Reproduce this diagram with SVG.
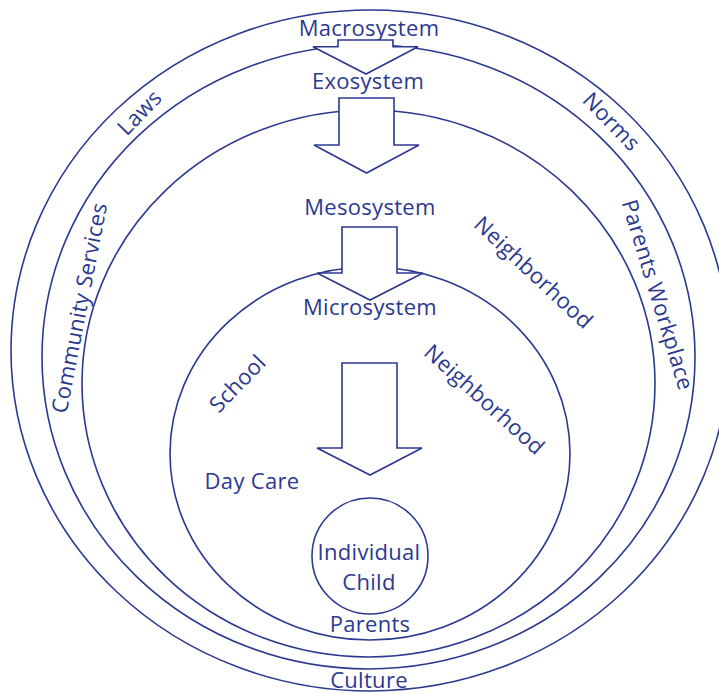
<svg xmlns="http://www.w3.org/2000/svg" width="719" height="694" viewBox="0 0 719 694">
<style>
.ring{fill:none;stroke:#2b3990;stroke-width:1.6}
.arrow{fill:#ffffff;stroke:#2b3990;stroke-width:1.6;stroke-linejoin:miter}
.lbl{font-family:"Open Sans","Noto Sans",sans-serif;font-size:22px;fill:#2b3990;text-anchor:middle;letter-spacing:0.3px}
</style>
<rect width="719" height="694" fill="#ffffff"/>
<g id="macrosystem">
<ellipse class="ring" cx="370" cy="350.5" rx="359" ry="340.5"/>
<text class="lbl" x="369" y="36">Macrosystem</text>
<text class="lbl" x="369" y="688">Culture</text>
<text class="lbl" transform="translate(140,113) rotate(-46)" x="0" y="7">Laws</text>
<text class="lbl" transform="translate(611,122) rotate(46)" x="0" y="7">Norms</text>
</g>
<g id="exosystem">
<ellipse class="ring" cx="368.5" cy="357" rx="326.5" ry="312"/>
<text class="lbl" x="368" y="89">Exosystem</text>
<text class="lbl" transform="translate(80,308) rotate(-79)" x="0" y="7">Community Services</text>
<text class="lbl" transform="translate(657,295) rotate(73)" x="0" y="7">Parents Workplace</text>
</g>
<g id="mesosystem">
<ellipse class="ring" cx="368.5" cy="383.5" rx="286.5" ry="273.5"/>
<text class="lbl" x="370" y="215">Mesosystem</text>
<text class="lbl" transform="translate(533,273) rotate(43)" x="0" y="7">Neighborhood</text>
</g>
<g id="microsystem">
<ellipse class="ring" cx="370" cy="453.5" rx="200" ry="186.5"/>
<text class="lbl" x="370" y="315">Microsystem</text>
<text class="lbl" transform="translate(238,384) rotate(-46)" x="0" y="7">School</text>
<text class="lbl" transform="translate(484,400) rotate(42)" x="0" y="7">Neighborhood</text>
<text class="lbl" x="252" y="489">Day Care</text>
<text class="lbl" x="370" y="632">Parents</text>
</g>
<g id="connectors">
<polygon class="arrow" points="338,40 393,40 393,46.7 418,46.7 366,74 313,46.7 338,46.7"/>
<polygon class="arrow" points="339,98 394,98 394,145 419,145 366.5,173 314,145 339,145"/>
<polygon class="arrow" points="342,227 397,227 397,273 423,273 370,300 317,273 342,273"/>
<polygon class="arrow" points="342,363 397,363 397,448 422,448 370,475 317,448 342,448"/>
</g>
<g id="child">
<circle class="ring" cx="370" cy="556" r="58"/>
<text class="lbl" x="369" y="560">Individual</text>
<text class="lbl" x="369" y="590">Child</text>
</g>
</svg>
